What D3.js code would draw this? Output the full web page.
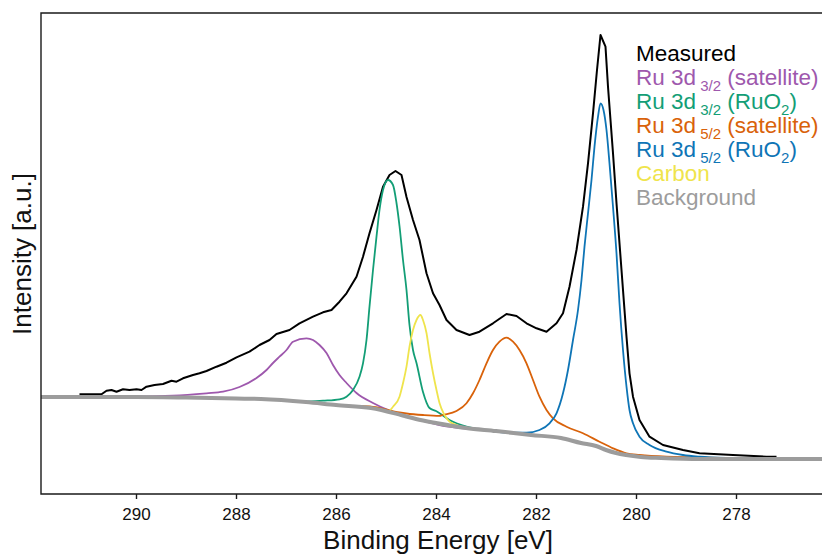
<!DOCTYPE html>
<html><head><meta charset="utf-8">
<script src="https://cdn.jsdelivr.net/npm/d3@7"></script>
<style>
body{margin:0;background:#fff}
svg{display:block}
text{font-family:"Liberation Sans",Arial,Helvetica,sans-serif}
</style>
</head><body>
<svg id="c" width="822" height="556"></svg>
<script>
// ---- data: [binding energy (eV), intensity (a.u.)] ----
const xTicks = [290, 288, 286, 284, 282, 280, 278];

const measured = [
  [291.13,997],[290.69,997],[290.59,1033],[290.49,1040],[290.39,1023],[290.26,1047],[290.13,1040],
  [289.99,1047],[289.89,1040],[289.79,1073],[289.63,1090],[289.46,1100],[289.29,1133],[289.19,1123],
  [289.06,1157],[288.86,1190],[288.73,1207],[288.59,1230],[288.39,1273],[288.19,1313],[287.99,1367],
  [287.73,1423],[287.53,1490],[287.33,1540],[287.19,1600],[286.93,1640],[286.73,1707],[286.46,1773],
  [286.26,1817],[286.09,1840],[285.93,1923],[285.79,2007],[285.59,2173],[285.46,2373],[285.33,2607],
  [285.19,2840],[285.06,3073],[284.93,3190],[284.81,3230],[284.69,3190],[284.59,2970],[284.46,2740],
  [284.33,2540],[284.19,2207],[284.06,2007],[283.93,1890],[283.79,1740],[283.59,1640],[283.33,1590],
  [283.13,1623],[282.86,1707],[282.59,1800],[282.39,1780],[282.19,1707],[281.99,1657],[281.79,1623],
  [281.59,1707],[281.46,1807],[281.33,2073],[281.19,2440],[281.06,2873],[280.96,3307],[280.86,3807],
  [280.78,4240],[280.71,4590],[280.61,4473],[280.56,4073],[280.46,3407],[280.39,2907],[280.29,2240],
  [280.19,1573],[280.13,1207],[280.06,973],[279.93,740],[279.73,573],[279.46,490],[279.06,440],
  [278.73,407],[278.06,390],[277.39,373],[277.19,373]
];

const ru32Sat = [
  [291.9,972],[290.0,975],[289.26,983],[288.59,1007],[288.26,1023],[287.93,1070],[287.59,1160],
  [287.39,1240],[287.26,1310],[287.13,1373],[286.99,1440],[286.86,1523],[286.59,1557],[286.46,1540],
  [286.33,1490],[286.19,1410],[286.06,1290],[285.93,1190],[285.79,1110],[285.59,1010],[285.26,910],
  [284.93,833],[284.59,780],[284.26,730],[283.93,690],[283.4,655]
];

const ru32RuO2 = [
  [286.6,923],[286.26,933],[285.93,947],[285.79,973],[285.66,1040],[285.53,1173],[285.46,1307],
  [285.39,1540],[285.33,1873],[285.26,2240],[285.19,2573],[285.13,2840],[285.06,3040],[284.96,3140],
  [284.86,3090],[284.79,2910],[284.73,2680],[284.66,2340],[284.59,2040],[284.53,1690],[284.46,1440],
  [284.39,1310],[284.26,1020],[284.13,860],[284.0,830],[283.73,740],[283.39,673],[283.07,640]
];

const ru52Sat = [
  [285.6,880],[285.26,872],[284.73,815],[284.59,805],[284.26,790],[283.93,782],[283.87,790],
  [283.59,830],[283.39,907],[283.26,1007],[283.13,1140],[282.99,1307],[282.86,1440],[282.73,1523],
  [282.59,1563],[282.46,1523],[282.33,1440],[282.19,1307],[282.06,1140],[281.93,973],[281.79,840],
  [281.66,757],[281.39,673],[281.06,607],[280.73,523],[280.46,457],[280.19,407],[279.93,390],
  [279.39,373],[278.73,367],[278.2,358]
];

const ru52RuO2 = [
  [283.0,640],[282.73,620],[282.46,613],[282.19,613],[281.93,640],[281.73,707],[281.59,807],
  [281.46,1007],[281.36,1240],[281.26,1540],[281.16,1840],[281.09,2140],[281.03,2473],[280.96,2807],
  [280.89,3140],[280.83,3473],[280.76,3773],[280.71,3907],[280.65,3840],[280.59,3640],[280.53,3307],
  [280.46,2873],[280.39,2407],[280.33,1907],[280.26,1440],[280.19,1073],[280.13,840],[280.06,707],
  [279.93,573],[279.73,490],[279.39,423],[279.06,390],[278.73,373],[278.2,360]
];

const carbon = [
  [285.1,838],[284.96,823],[284.86,873],[284.73,973],[284.66,1107],[284.59,1273],[284.53,1473],
  [284.46,1640],[284.39,1740],[284.31,1790],[284.26,1740],[284.19,1610],[284.13,1410],[284.06,1210],
  [283.99,1040],[283.93,910],[283.83,790],[283.73,723],[283.59,690],[283.4,662]
];

const background = [
  [291.9,970],[290.0,970],[289.0,965],[288.0,955],[287.5,950],[286.6,920],[286.0,890],[285.3,860],
  [284.7,790],[284.4,750],[284.0,710],[283.4,660],[282.8,630],[282.1,590],[281.5,560],[281.1,510],
  [280.8,480],[280.6,440],[280.4,410],[280.2,390],[279.9,370],[279.5,360],[278.7,350],[276.2,350]
];

const legendLabels = [
  [["Measured"]],
  [["Ru 3d"],[" 3/2","sub"],[" (satellite)"]],
  [["Ru 3d"],[" 3/2","sub"],[" (RuO"],["2","sub"],[")"]],
  [["Ru 3d"],[" 5/2","sub"],[" (satellite)"]],
  [["Ru 3d"],[" 5/2","sub"],[" (RuO"],["2","sub"],[")"]],
  [["Carbon"]],
  [["Background"]]
];
const colors = ["#000000","#9e58ad","#139e76","#d9620a","#0f75b6","#efe44c","#9c9c9c"];

// ---- drawing ----
const svg = d3.select("#c");
const L = 41, T = 13, B = 494, R = 826;
const x = d3.scaleLinear().domain([291.9, 276.2]).range([L, R]);
const y = d3.scaleLinear().domain([0, 4810]).range([B, T]);

const smooth = d3.line().x(d => x(d[0])).y(d => y(d[1])).curve(d3.curveMonotoneX);
const straight = d3.line().x(d => x(d[0])).y(d => y(d[1]));

const plot = svg.append("g");
plot.append("path").attr("d", straight(measured)).attr("fill","none")
  .attr("stroke", colors[0]).attr("stroke-width", 2).attr("stroke-linejoin","round");
[[ru32Sat,1],[ru32RuO2,2],[ru52Sat,3],[ru52RuO2,4],[carbon,5]].forEach(([d,i]) => {
  plot.append("path").attr("d", smooth(d)).attr("fill","none")
    .attr("stroke", colors[i]).attr("stroke-width", 1.8).attr("stroke-linejoin","round");
});
plot.append("path").attr("d", smooth(background)).attr("fill","none")
  .attr("stroke", colors[6]).attr("stroke-width", 4).attr("stroke-linejoin","round");

// frame (right side lies outside the picture)
svg.append("path").attr("d", `M${R},${T}H${L}V${B}H${R}`)
  .attr("fill","none").attr("stroke","#1a1a1a").attr("stroke-width",1.4);

// x axis
const ax = svg.append("g").attr("transform", `translate(0,${B})`)
  .call(d3.axisBottom(x).tickValues(xTicks).tickFormat(d3.format("d")).tickSize(5).tickPadding(9));
ax.select(".domain").remove();
ax.selectAll("line").attr("stroke","#1a1a1a").attr("stroke-width",1.4);
ax.selectAll("text").attr("font-size", 17).attr("fill","#111")
  .style("font-family",'"Liberation Sans",Arial,sans-serif');

// axis titles
svg.append("text").attr("x", 438).attr("y", 549).attr("text-anchor","middle")
  .attr("font-size", 26).attr("fill","#111").text("Binding Energy [eV]");
svg.append("text").attr("transform", `translate(31,254) rotate(-90)`).attr("text-anchor","middle")
  .attr("font-size", 26).attr("fill","#111").text("Intensity [a.u.]");

// legend
legendLabels.forEach((parts, i) => {
  const t = svg.append("text").attr("x", 636).attr("y", 61 + i * 24)
    .attr("font-size", 22.5).attr("fill", colors[i]).attr("xml:space","preserve");
  let sub = false;
  parts.forEach(p => {
    const isSub = p[1] === "sub";
    const ts = t.append("tspan").text(p[0]).style("white-space","pre");
    if (isSub) ts.attr("font-size", 15);
    if (isSub && !sub) ts.attr("dy", 6);
    else if (!isSub && sub) ts.attr("dy", -6);
    sub = isSub;
  });
});
</script>
</body></html>
